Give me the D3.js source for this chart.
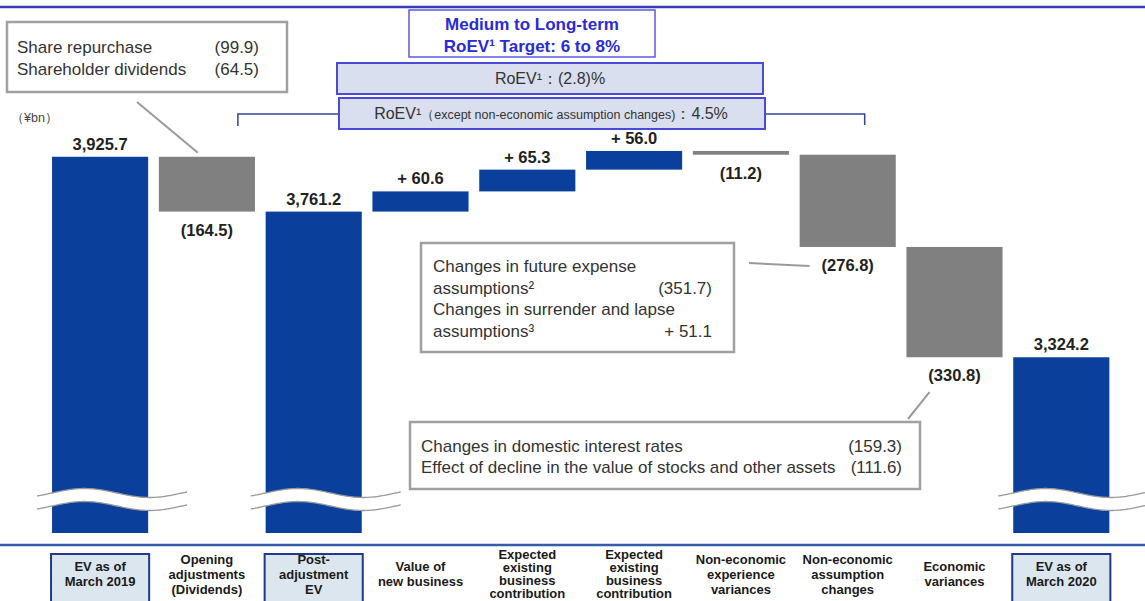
<!DOCTYPE html>
<html>
<head>
<meta charset="utf-8">
<script src="https://cdn.jsdelivr.net/npm/d3@7"></script>
<style>
  html, body { margin: 0; padding: 0; background: #fff; }
  svg { display: block; font-family: "Liberation Sans", Arial, sans-serif; }
</style>
</head>
<body>
<div id="chart"></div>
<script>
// Waterfall steps (¥bn)
const categories = [
  ['EV as of', 'March 2019'],
  ['Opening', 'adjustments', '(Dividends)'],
  ['Post-', 'adjustment', 'EV'],
  ['Value of', 'new business'],
  ['Expected', 'existing', 'business', 'contribution'],
  ['Expected', 'existing', 'business', 'contribution'],
  ['Non-economic', 'experience', 'variances'],
  ['Non-economic', 'assumption', 'changes'],
  ['Economic', 'variances'],
  ['EV as of', 'March 2020'],
];
const kinds = ['total', 'delta', 'total', 'delta', 'delta', 'delta', 'delta', 'delta', 'delta', 'total'];
const values = [3925.7, -164.5, 3761.2, 60.6, 65.3, 56.0, -11.2, -276.8, -330.8, 3324.2];

// Callout notes
const openingNotes = [['Share repurchase', '(99.9)'], ['Shareholder dividends', '(64.5)']];
const assumptionNotes = [
  ['Changes in future expense', ''],
  ['assumptions²', '(351.7)'],
  ['Changes in surrender and lapse', ''],
  ['assumptions³', '+ 51.1'],
];
const economicNotes = [
  ['Changes in domestic interest rates', '(159.3)'],
  ['Effect of decline in the value of stocks and other assets', '(111.6)'],
];
const targetLines = ['Medium to Long-term', 'RoEV¹ Target: 6 to 8%'];
const roevText = 'RoEV¹：(2.8)%';
const roevCoreParts = ['RoEV¹', '（except non-economic assumption changes)', '：4.5%'];

const BLUE = '#0a409c';
const GRAY = '#808080';
const W = 1145, H = 601;

const svg = d3.select('#chart').append('svg')
  .attr('width', W)
  .attr('height', H);

// Scales
const x = d3.scaleBand()
  .domain(d3.range(categories.length))
  .range([46.7, 1114.7])
  .paddingInner(0.1)
  .paddingOuter(0.05);
const bw = x.bandwidth();

const y = d3.scaleLinear()
  .domain([2797, 4000])
  .range([533, 132]);

// Waterfall geometry
let running = 0;
const bars = values.map((v, i) => {
  let start, end;
  if (kinds[i] === 'total') { start = y.domain()[0]; end = v; running = v; }
  else { start = running; end = running + v; running = end; }
  return { i, v, kind: kinds[i], lo: Math.min(start, end), hi: Math.max(start, end) };
});

const fmt = d3.format(',.1f');
const label = d => d.kind === 'total' ? fmt(d.v)
  : d.v > 0 ? '+ ' + fmt(d.v) : '(' + fmt(-d.v) + ')';

// Top rule
svg.append('line')
  .attr('x1', 0).attr('x2', W).attr('y1', 7).attr('y2', 7)
  .attr('stroke', '#3a3ab4').attr('stroke-width', 2.5);

// Bars
svg.selectAll('.bar')
  .data(bars)
  .join('rect')
  .attr('class', 'bar')
  .attr('x', d => x(d.i))
  .attr('y', d => y(d.hi))
  .attr('width', bw)
  .attr('height', d => y(d.lo) - y(d.hi))
  .attr('fill', d => d.kind === 'total' || d.v > 0 ? BLUE : GRAY);

// Axis break waves on the total bars
function wavePts(x0, xa, xb, yc) {
  const pts = [];
  for (let px = xa; px <= xb; px += 2) {
    pts.push([px, yc - 4.5 * Math.sin(2 * Math.PI * (px - x0) / 130)]);
  }
  return pts;
}
const waveLine = d3.line().curve(d3.curveBasis);
bars.filter(d => d.kind === 'total').forEach(d => {
  const x0 = x(d.i);
  const top = wavePts(x0, x0 - 15, x0 + bw + 40, 493);
  const bot = wavePts(x0, x0 - 15, x0 + bw + 40, 506);
  const band = top.concat(bot.slice().reverse());
  svg.append('path')
    .attr('d', d3.line()(band) + 'Z')
    .attr('fill', '#fff');
  [top, bot].forEach(p => {
    svg.append('path')
      .attr('d', waveLine(p))
      .attr('fill', 'none')
      .attr('stroke', '#9a9a9a')
      .attr('stroke-width', 1.3);
  });
});

// Value labels
svg.selectAll('.val')
  .data(bars)
  .join('text')
  .attr('class', 'val')
  .attr('x', d => x(d.i) + bw / 2)
  .attr('y', d => d.kind === 'total' || d.v > 0 ? y(d.hi) - 7 : y(d.lo) + 24)
  .attr('text-anchor', 'middle')
  .attr('font-size', 16.5)
  .attr('font-weight', 'bold')
  .attr('fill', '#222')
  .text(label);

// Unit
svg.append('text')
  .attr('x', 11).attr('y', 122)
  .attr('font-size', 12.5)
  .attr('fill', '#444')
  .text('（¥bn）');

// RoEV target boxes
svg.append('rect')
  .attr('x', 409).attr('y', 10).attr('width', 246).attr('height', 47)
  .attr('fill', '#fff').attr('stroke', '#5a5ae0').attr('stroke-width', 1.5);
svg.selectAll('.target')
  .data(targetLines)
  .join('text')
  .attr('class', 'target')
  .attr('x', 532)
  .attr('y', (d, i) => 30 + i * 22)
  .attr('text-anchor', 'middle')
  .attr('font-size', 17)
  .attr('font-weight', 'bold')
  .attr('fill', '#2a2ad8')
  .text(d => d);

svg.append('rect')
  .attr('x', 337).attr('y', 63).attr('width', 426).attr('height', 31)
  .attr('fill', '#d9dfee').attr('stroke', '#4a4ad8').attr('stroke-width', 2);
svg.append('text')
  .attr('x', 550).attr('y', 84)
  .attr('text-anchor', 'middle')
  .attr('font-size', 16)
  .attr('fill', '#333')
  .text(roevText);

// bracket spanning the operating steps
svg.append('path')
  .attr('d', `M${x(1) + bw / 2 + 31},126V114H339M765,114H${x(7) + bw / 2 + 17}V125`)
  .attr('fill', 'none')
  .attr('stroke', '#34449a')
  .attr('stroke-width', 1.5);

svg.append('rect')
  .attr('x', 339).attr('y', 98).attr('width', 426).attr('height', 31)
  .attr('fill', '#d9dfee').attr('stroke', '#4a4ad8').attr('stroke-width', 2);
const core = svg.append('text')
  .attr('x', 551).attr('y', 119)
  .attr('text-anchor', 'middle')
  .attr('fill', '#333');
roevCoreParts.forEach((t, i) => {
  core.append('tspan')
    .attr('font-size', i === 1 ? 12.5 : 16)
    .text(t);
});

// Callout boxes
function noteBox(rows, box, opts) {
  svg.append('rect')
    .attr('x', box.x).attr('y', box.y).attr('width', box.w).attr('height', box.h)
    .attr('fill', '#fff').attr('stroke', '#a0a0a0').attr('stroke-width', 2.5);
  rows.forEach(([name, val], i) => {
    const yy = opts.y0 + i * opts.lh;
    svg.append('text')
      .attr('x', opts.tx).attr('y', yy)
      .attr('font-size', opts.fs).attr('fill', '#333')
      .text(name);
    if (val) {
      svg.append('text')
        .attr('x', opts.vx).attr('y', yy)
        .attr('text-anchor', 'end')
        .attr('font-size', opts.fs).attr('fill', '#333')
        .text(val);
    }
  });
}
function leader(x1, y1, x2, y2) {
  svg.append('line')
    .attr('x1', x1).attr('y1', y1).attr('x2', x2).attr('y2', y2)
    .attr('stroke', '#9a9a9a').attr('stroke-width', 2);
}

noteBox(openingNotes, { x: 7, y: 22, w: 280, h: 70 }, { tx: 17, vx: 259, y0: 53, lh: 22, fs: 17 });
leader(137, 102, x(1) + bw / 2 - 9, y(bars[1].hi) - 4);

noteBox(assumptionNotes, { x: 421, y: 243, w: 313, h: 109 }, { tx: 433, vx: 712, y0: 272, lh: 21.7, fs: 17 });
leader(749, 263, x(7) + 10, y(bars[7].lo) + 19);

noteBox(economicNotes, { x: 410, y: 422, w: 510, h: 67 }, { tx: 421, vx: 902, y0: 452, lh: 21, fs: 17 });
leader(908, 419, x(8) + 23, y(bars[8].lo) + 35);

// Category strip
svg.append('line')
  .attr('x1', 0).attr('x2', W).attr('y1', 545).attr('y2', 545)
  .attr('stroke', '#2f5da8').attr('stroke-width', 2.5);

svg.selectAll('.catbox')
  .data(bars.filter(d => d.kind === 'total'))
  .join('rect')
  .attr('class', 'catbox')
  .attr('x', d => x(d.i) - 1)
  .attr('y', 554)
  .attr('width', bw + 2)
  .attr('height', 60)
  .attr('fill', '#dce6ef')
  .attr('stroke', '#1f3a8a')
  .attr('stroke-width', 2);

const cat = svg.selectAll('.cat')
  .data(categories)
  .join('text')
  .attr('class', 'cat')
  .attr('text-anchor', 'middle')
  .attr('font-size', 13)
  .attr('font-weight', 'bold')
  .attr('fill', '#1a1a1a');
cat.each(function (lines, i) {
  const lh = lines.length >= 4 ? 12.8 : 15;
  const y0 = 574 - (lines.length - 1) * lh / 2 + 4.5;
  d3.select(this).selectAll('tspan')
    .data(lines)
    .join('tspan')
    .attr('x', x(i) + bw / 2)
    .attr('y', (d, k) => y0 + k * lh)
    .text(d => d);
});
</script>
</body>
</html>
